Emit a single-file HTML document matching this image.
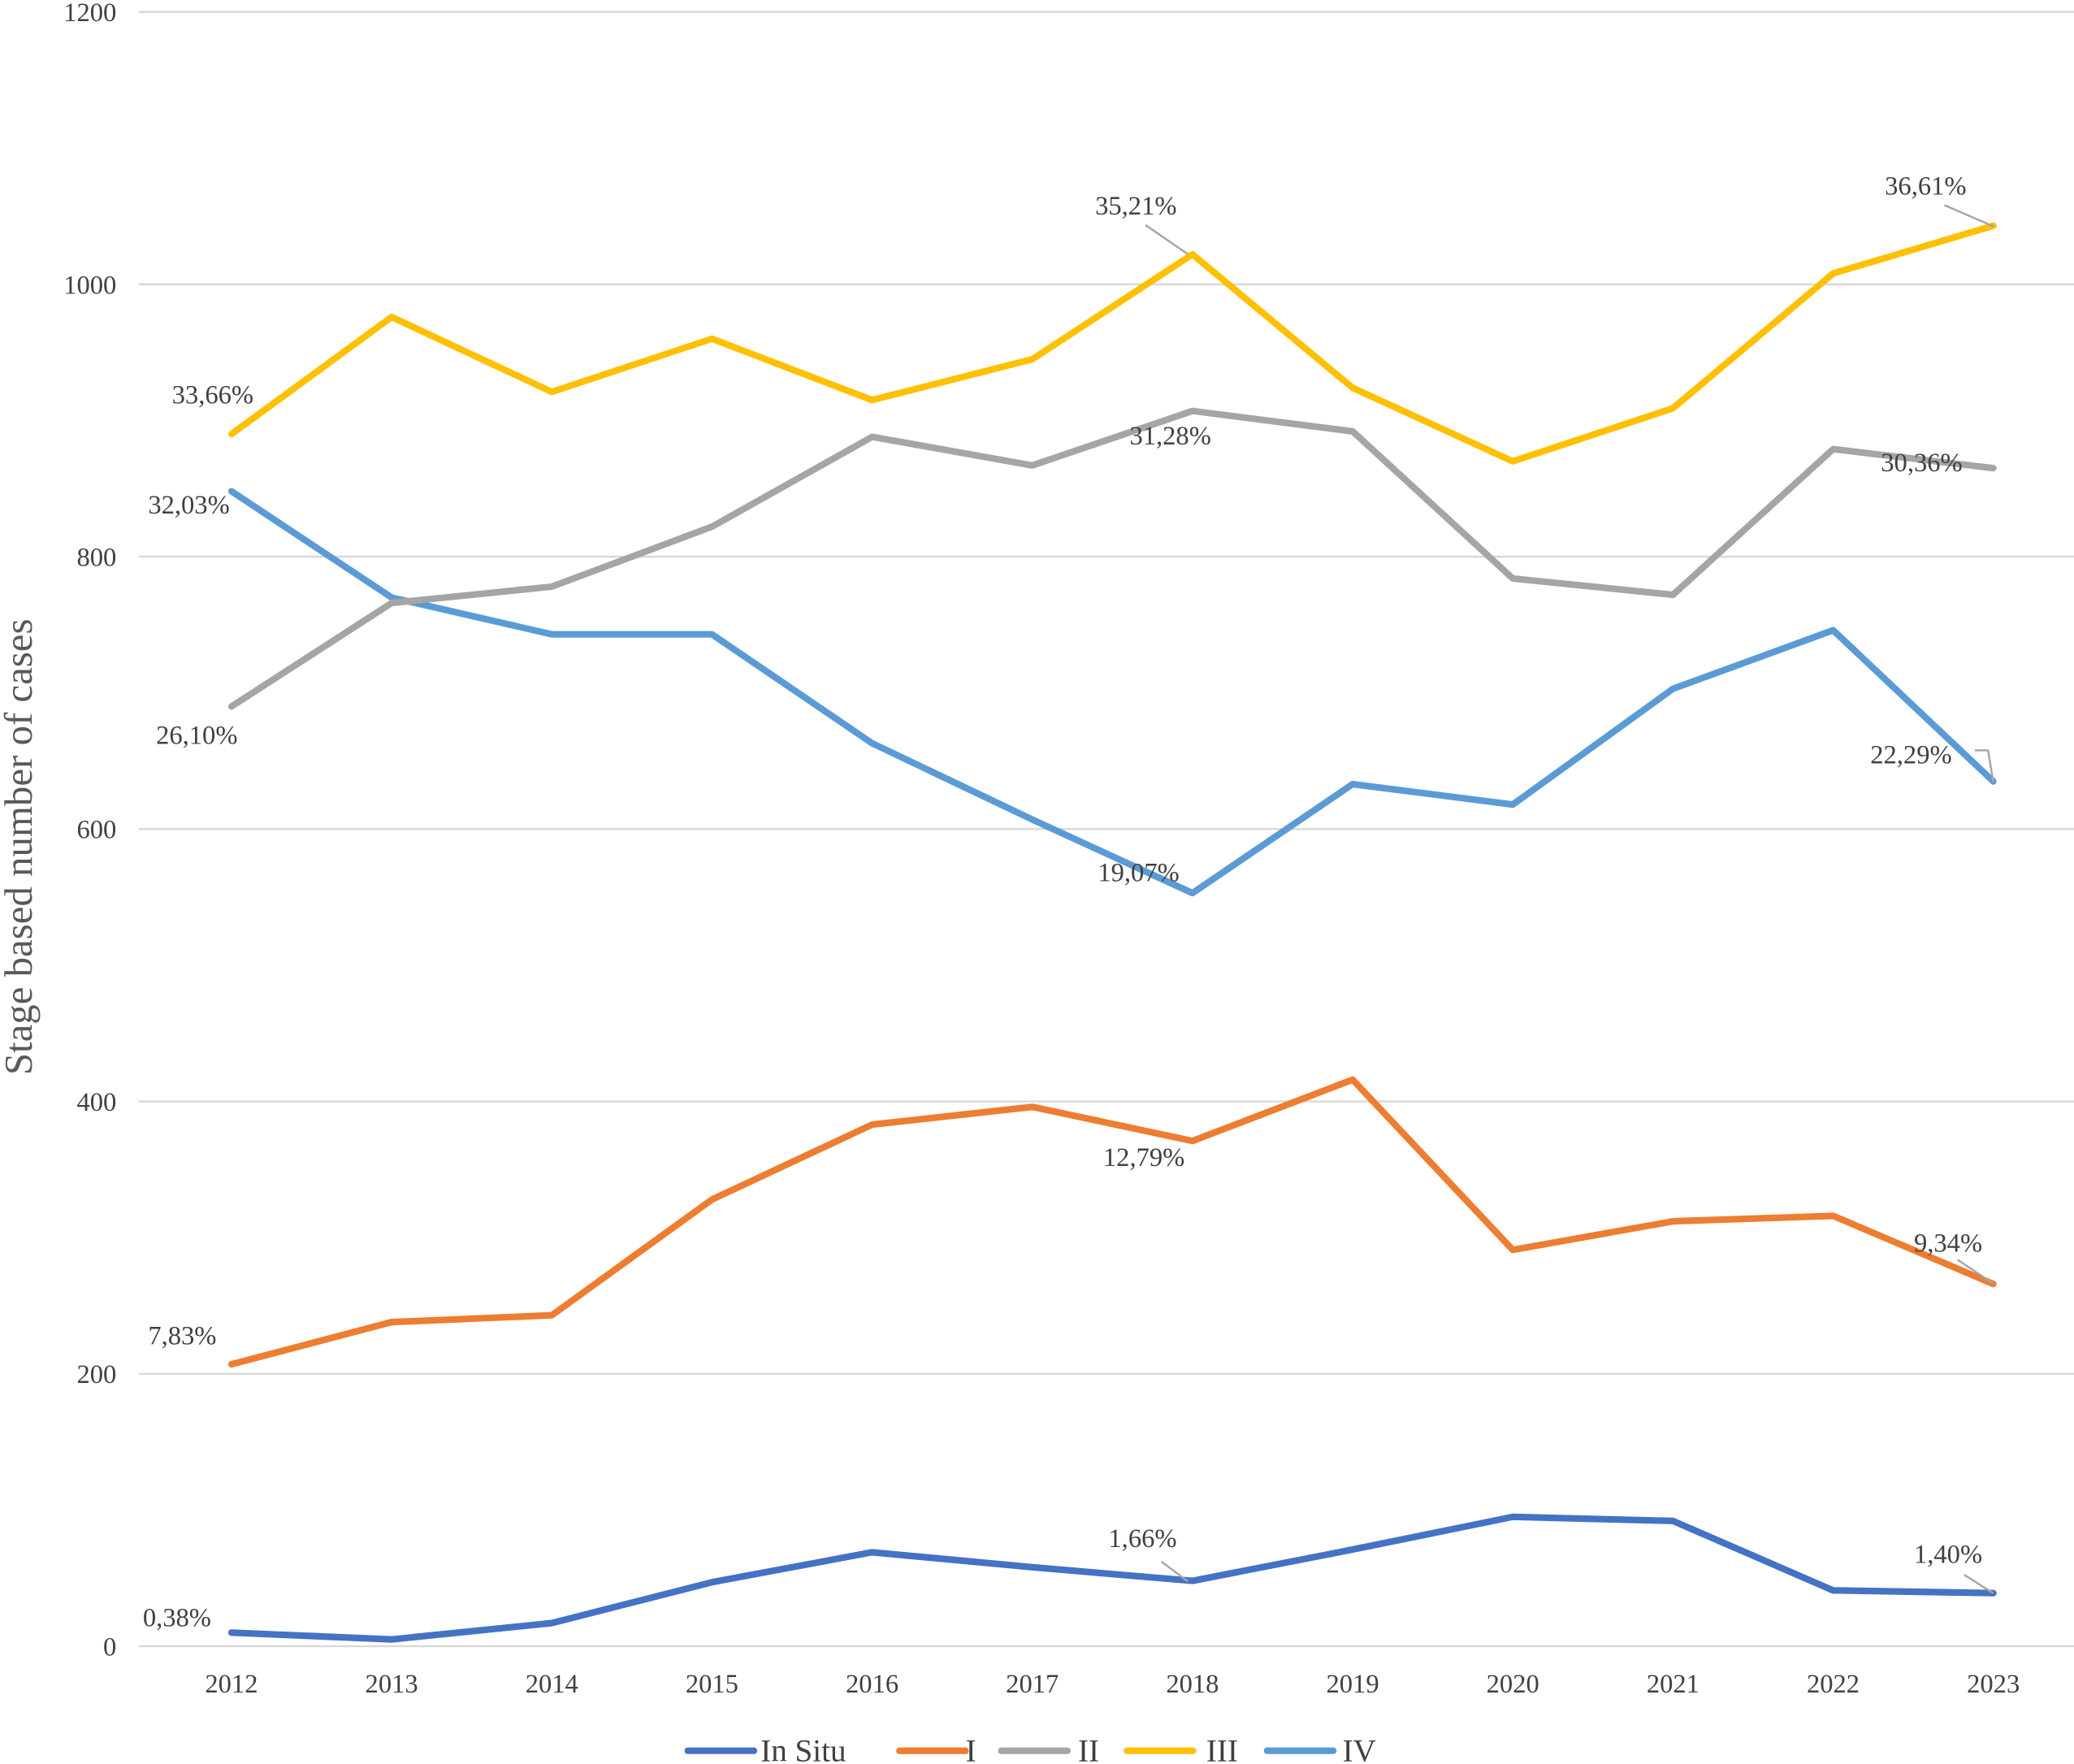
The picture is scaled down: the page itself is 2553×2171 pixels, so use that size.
<!DOCTYPE html>
<html><head><meta charset="utf-8"><style>
html,body{margin:0;padding:0;background:#fff;}
svg{display:block;}
text{font-family:"Liberation Serif",serif;fill:#404040;}
</style></head><body>
<svg id="chart" width="2553" height="2171" viewBox="0 0 1568 1333" preserveAspectRatio="none" xmlns="http://www.w3.org/2000/svg">
<g id="grid"></g>
<g id="yticks"></g>
<g id="xticks"></g>
<text transform="translate(24,640) rotate(-90)" text-anchor="middle" font-size="30" style="fill:#595959">Stage based number of cases</text>
<g id="lines"></g>
<g id="annot"></g>
<g id="legend"></g>
</svg>
<script>
const years = [2012,2013,2014,2015,2016,2017,2018,2019,2020,2021,2022,2023];
const inSitu = [10,5,17,47,69,58,48,71,95,92,41,39];
const stageI = [207,238,243,328,383,396,371,416,291,312,316,266];
const stageII = [690,766,778,822,888,867,907,892,784,772,879,865];
const stageIII = [890,976,921,960,915,945,1022,924,870,909,1008,1043];
const stageIV = [848,770,743,743,663,607,553,633,618,703,746,635];
const yTicks = [0,200,400,600,800,1000,1200];
const seriesNames = ["In Situ","I","II","III","IV"];
const seriesColors = ["#4472C4","#ED7D31","#A5A5A5","#FFC000","#5B9BD5"];
const NS="http://www.w3.org/2000/svg";
const X0=175, X1=1507, Y0=1244, Y1=9;
function xs(i){return X0+(X1-X0)*i/(years.length-1);}
function ys(v){return Y0-(Y0-Y1)*v/1200;}
function mk(tag,attrs,parent){const e=document.createElementNS(NS,tag);for(const k in attrs)e.setAttribute(k,attrs[k]);parent.appendChild(e);return e;}
const grid=document.getElementById('grid'), yt=document.getElementById('yticks'), xt=document.getElementById('xticks');
yTicks.forEach(t=>{
  const l=mk('line',{x1:105,x2:1568,y1:ys(t),y2:ys(t),stroke:'#D9D9D9','stroke-width':1.5},grid);
  
  
  const tx=mk('text',{x:88,y:ys(t)+7,'text-anchor':'end','font-size':20},yt);
  tx.textContent=t;
  
  
});
years.forEach((y,i)=>{
  const tx=mk('text',{x:xs(i),y:1279,'text-anchor':'middle','font-size':20},xt);
  tx.textContent=y;
  
  
});
const all=[inSitu,stageI,stageII,stageIII,stageIV];
const lines=document.getElementById('lines');
[4,0,1,2,3].forEach(s=>{
  const d=all[s].map((v,i)=>(i?'L':'M')+xs(i)+','+ys(v)).join(' ');
  const p=mk('path',{d:d,fill:'none',stroke:seriesColors[s],'stroke-width':5,'stroke-linejoin':'round','stroke-linecap':'round'},lines);
  
  
});
const an=document.getElementById('annot');
const labels=[
 ["33,66%",130,305],["32,03%",112,388],["26,10%",118,562],["35,21%",828,162],["31,28%",854,336],
 ["19,07%",830,666],["12,79%",834,881],["36,61%",1425,147],["30,36%",1422,356],["22,29%",1414,577],
 ["9,34%",1447,946],["7,83%",112,1016],["1,66%",838,1169],["0,38%",108,1229],["1,40%",1447,1181]
];
labels.forEach(l=>{
  const t=mk('text',{x:l[1],y:l[2],'font-size':20},an);
  t.textContent=l[0];
  
  
});
[["M866,170 L898,192"],["M1470,155 L1507,171"],["M1493,567 L1503,567 L1507,591"],["M1480,952 L1507,970"],["M878,1180 L898,1195"],["M1485,1190 L1507,1204"]].forEach(p=>{
  const e=mk('path',{d:p[0],fill:'none',stroke:'#A5A5A5','stroke-width':1.5},an);
  
  
});
const lg=document.getElementById('legend');
const lgX=[[520,575],[680,730],[757,815],[852,912],[958,1015]];
seriesNames.forEach((n,i)=>{
  const g=mk('g',{},lg);
  
  
  mk('line',{x1:lgX[i][0],x2:lgX[i][0]+50,y1:1323,y2:1323,stroke:seriesColors[i],'stroke-width':5,'stroke-linecap':'round'},g);
  const t=mk('text',{x:lgX[i][1],y:1331,'font-size':24},g);
  t.textContent=n;
});
</script>
</body></html>
